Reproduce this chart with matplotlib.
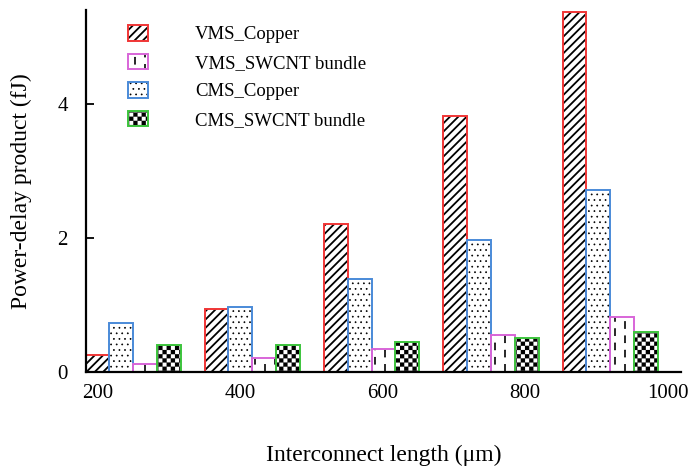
import numpy as np
import matplotlib
matplotlib.use("Agg")
import matplotlib.pyplot as plt
import matplotlib.hatch as mhatch
from matplotlib.path import Path
from matplotlib.legend_handler import HandlerTuple

# power-delay product (fJ) against interconnect length
lengths = [200, 400, 600, 800, 1000]
vms_copper = [0.25, 0.94, 2.20, 3.82, 5.37]
cms_copper = [0.73, 0.975, 1.39, 1.97, 2.71]
vms_swcnt = [0.115, 0.21, 0.35, 0.55, 0.82]
cms_swcnt = [0.41, 0.40, 0.44, 0.51, 0.59]


class CheckerHatch(mhatch.HatchPatternBase):
    # filled squares on alternate cells, 'O' per step
    def __init__(self, hatch, density):
        n = hatch.count('O') * density
        self.n = n + (n % 2)
        self.num_vertices = 5 * (self.n * self.n // 2)

    def set_vertices_and_codes(self, vertices, codes):
        s = 1.0 / self.n
        k = 0
        for i in range(self.n):
            for j in range(self.n):
                if (i + j) % 2:
                    continue
                x0, y0 = i * s, j * s
                vertices[k:k + 5] = [(x0, y0), (x0 + s, y0), (x0 + s, y0 + s),
                                     (x0, y0 + s), (x0, y0)]
                codes[k:k + 5] = [Path.MOVETO, Path.LINETO, Path.LINETO,
                                  Path.LINETO, Path.CLOSEPOLY]
                k += 5


class DashHatch(mhatch.HatchPatternBase):
    # staggered short vertical dashes, triggered by 'o'
    def __init__(self, hatch, density):
        if 'o' in hatch:
            self.cols, self.rows = 10, 7
        else:
            self.cols, self.rows = 0, 0
        self.num_vertices = 5 * self.cols * self.rows

    def set_vertices_and_codes(self, vertices, codes):
        w, h = 0.006, 0.035
        k = 0
        for c in range(self.cols):
            x = (c + 0.5) / self.cols
            for r in range(self.rows):
                y = (r + 0.25 + 0.5 * (c % 2)) / self.rows
                vertices[k:k + 5] = [(x - w, y - h), (x + w, y - h), (x + w, y + h),
                                     (x - w, y + h), (x - w, y - h)]
                codes[k:k + 5] = [Path.MOVETO, Path.LINETO, Path.LINETO,
                                  Path.LINETO, Path.CLOSEPOLY]
                k += 5


mhatch._hatch_types = [t for t in mhatch._hatch_types
                       if t not in (mhatch.LargeCircles, mhatch.SmallCircles)]
mhatch._hatch_types += [CheckerHatch, DashHatch]

plt.rcParams['font.family'] = ['Liberation Serif', 'DejaVu Serif']
plt.rcParams['hatch.linewidth'] = 0.4

fig = plt.figure(figsize=(6.88, 4.71), dpi=100)
ax = fig.add_axes([0.125, 0.2102, 0.865, 0.7688])

series = [
    ("VMS_Copper", vms_copper, "#f03535", "////", 1.3),
    ("CMS_Copper", cms_copper, "#4a8ad8", "...", 0.5),
    ("VMS_SWCNT bundle", vms_swcnt, "#d865d8", "o", 0.4),
    ("CMS_SWCNT bundle", cms_swcnt, "#3cc43c", "OOOO", 0.1),
]
hatch_lw = {name: hlw for name, _, _, _, hlw in series}


def set_hlw(patch, lw):
    if hasattr(patch, "set_hatch_linewidth"):
        patch.set_hatch_linewidth(lw)


x = np.arange(len(lengths))
width = 0.2
handles = {}
for i, (name, vals, col, hatch, hlw) in enumerate(series):
    pos = x + (i - 1.5) * width
    fill = ax.bar(pos, vals, width, facecolor="white", edgecolor="black",
                  hatch=hatch, linewidth=0, zorder=2)
    for p in fill:
        set_hlw(p, hlw)
    edge = ax.bar(pos, vals, width, facecolor="none", edgecolor=col,
                  linewidth=1.4, zorder=3)
    handles[name] = (fill[0], edge[0])

ax.set_xlim(-0.394, 4.594)
ax.set_ylim(0, 5.40)
ax.set_xticks(np.linspace(-0.30, 4.48, len(lengths)))
ax.set_xticklabels([str(v) for v in lengths])
ax.set_yticks([0, 2, 4])

for s in ("top", "right"):
    ax.spines[s].set_visible(False)
for s in ("left", "bottom"):
    ax.spines[s].set_linewidth(1.6)
    ax.spines[s].set_zorder(4)

ax.tick_params(axis="x", length=0, pad=9, labelsize=15)
ax.tick_params(axis="y", direction="in", length=6, width=1.3, pad=13, labelsize=15)

ax.set_xlabel("Interconnect length (μm)", fontsize=17, labelpad=30)
ax.set_ylabel("Power-delay product (fJ)", fontsize=17, labelpad=18)

order = ["VMS_Copper", "VMS_SWCNT bundle", "CMS_Copper", "CMS_SWCNT bundle"]
leg = ax.legend([handles[n] for n in order], order,
                handler_map={tuple: HandlerTuple(ndivide=1, pad=0)},
                loc="upper left", bbox_to_anchor=(0.07, 0.958), frameon=False,
                fontsize=13.5, handlelength=1.1, handleheight=0.9,
                handletextpad=2.5, labelspacing=0.55, borderpad=0, borderaxespad=0)
for h, name in zip(leg.legend_handles, order):
    set_hlw(h, hatch_lw[name])

fig.savefig("out.png", dpi=100)
